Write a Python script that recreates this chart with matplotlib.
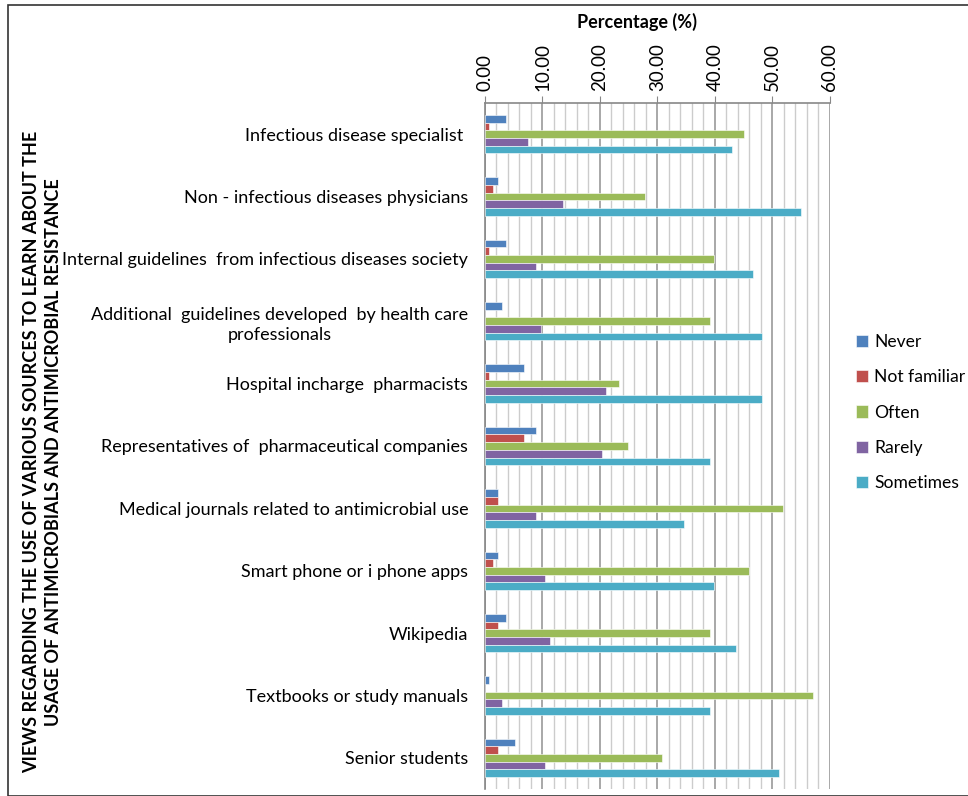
import matplotlib.pyplot as plt
import numpy as np
from matplotlib.patches import Rectangle

plt.rcParams['font.family'] = ['Lato', 'DejaVu Sans']

categories = ['Infectious disease specialist ',
              'Non - infectious diseases physicians',
              'Internal guidelines  from infectious diseases society',
              'Additional  guidelines developed  by health care\nprofessionals',
              'Hospital incharge  pharmacists',
              'Representatives of  pharmaceutical companies',
              'Medical journals related to antimicrobial use',
              'Smart phone or i phone apps',
              'Wikipedia',
              'Textbooks or study manuals',
              'Senior students']

never = [3.7, 2.3, 3.7, 3.0, 6.8, 8.9, 2.3, 2.3, 3.7, 0.7, 5.2]
not_familiar = [0.7, 1.4, 0.7, 0.0, 0.7, 6.8, 2.3, 1.4, 2.3, 0.0, 2.3]
often = [45.1, 27.8, 39.8, 39.1, 23.3, 24.8, 51.9, 45.9, 39.1, 57.1, 30.8]
rarely = [7.5, 13.5, 8.9, 9.7, 21.1, 20.3, 8.9, 10.4, 11.3, 3.0, 10.4]
sometimes = [42.9, 54.9, 46.6, 48.1, 48.1, 39.1, 34.6, 39.8, 43.6, 39.1, 51.1]

series = [('Never', never, '#4F81BD'),
          ('Not familiar', not_familiar, '#C0504D'),
          ('Often', often, '#9BBB59'),
          ('Rarely', rarely, '#8064A2'),
          ('Sometimes', sometimes, '#4BACC6')]

fig = plt.figure(figsize=(9.68, 7.96), dpi=100)
ax = fig.add_axes([0.501, 0.0088, 0.3564, 0.8618])

y = np.arange(len(categories))
h = 0.123
for i, (name, vals, col) in enumerate(series):
    ax.barh(y + (i - 2) * h, vals, height=h, color=col, label=name,
            edgecolor='white', linewidth=0.4, zorder=3)

ax.set_xlim(0, 60)
ax.set_ylim(len(categories) - 0.5, -0.5)
ax.xaxis.tick_top()
ax.set_xticks(np.arange(0, 61, 10))
ax.set_xticklabels(['%.2f' % v for v in np.arange(0, 61, 10)], rotation=90, fontsize=13.5)
ax.set_xticks(np.arange(0, 61, 2), minor=True)
ax.tick_params(axis='x', which='major', length=5, color='#888888', pad=4)
ax.tick_params(axis='x', which='minor', length=0)
ax.grid(axis='x', which='major', color='#999999', linewidth=1.2, zorder=0)
ax.grid(axis='x', which='minor', color='#cccccc', linewidth=1.0, zorder=0)
ax.set_axisbelow(True)

ax.set_yticks(y)
ax.set_yticklabels(categories, fontsize=13, ha='right', multialignment='center',
                   linespacing=1.35)
ax.tick_params(axis='y', length=0, pad=12)

for s in ['right', 'bottom']:
    ax.spines[s].set_visible(False)
for s in ['top', 'left']:
    ax.spines[s].set_color('#888888')
    ax.spines[s].set_linewidth(1.2)

fig.text(637 / 968, 1 - 22 / 796, 'Percentage (%)', fontsize=13, fontweight='bold',
         ha='center', va='center')

fig.text(0.044, 0.432, 'VIEWS REGARDING THE USE OF VARIOUS SOURCES TO LEARN ABOUT THE\n'
         'USAGE OF ANTIMICROBIALS AND ANTIMICROBIAL RESISTANCE',
         rotation=90, fontsize=13, fontweight='bold', ha='center', va='center',
         multialignment='center', linespacing=1.35)

fig.legend(loc='upper left', bbox_to_anchor=(0.868, 0.6), frameon=False,
           fontsize=12.6, handlelength=0.7, handleheight=0.7, handletextpad=0.35,
           labelspacing=1.1)

fig.patches.append(Rectangle((8 / 968, 0), 1.2, 1 - 5 / 796, transform=fig.transFigure,
                             fill=False, edgecolor='#333333', linewidth=1.2))

fig.savefig('out.png', dpi=100)
